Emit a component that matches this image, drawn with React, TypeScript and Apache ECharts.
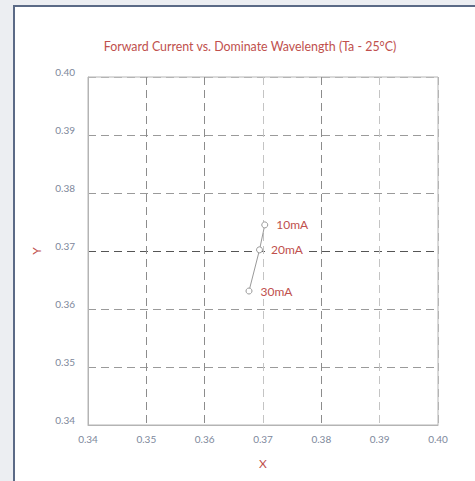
import React, { useEffect, useRef } from "react";
import * as echarts from "echarts";

const titleText = "Forward Current vs. Dominate Wavelength (Ta - 25°C)";
const currents = ["10mA", "20mA", "30mA"];
const xValues = [0.3703, 0.3694, 0.3676];
const yValues = [0.3745, 0.3702, 0.3631];
const axisMin = 0.34;
const axisMax = 0.4;
const axisStep = 0.01;

export default function App() {
  const ref = useRef<HTMLDivElement>(null);
  useEffect(() => {
    if (!ref.current) return;
    const chart = echarts.init(ref.current, undefined, { renderer: "svg" });
    const font = "Lato, 'Noto Sans', sans-serif";
    const labelColor = "#c0504d";
    const tickColor = "#7d879b";
    chart.setOption({
      animation: false,
      title: {
        text: titleText,
        left: 245,
        textAlign: "center",
        top: 35,
        textStyle: { color: labelColor, fontSize: 12.4, fontWeight: "normal", fontFamily: font },
      },
      grid: { left: 88, right: 37, top: 77, bottom: 56, show: true, borderColor: "#b4b4b4", borderWidth: 1 },
      xAxis: {
        type: "value",
        min: axisMin,
        max: axisMax,
        interval: axisStep,
        name: "X",
        nameLocation: "middle",
        nameGap: 32,
        nameTextStyle: { color: labelColor, fontSize: 12, fontFamily: font },
        axisLine: { show: true, lineStyle: { color: "#b4b4b4" } },
        axisTick: { show: false },
        axisLabel: { color: tickColor, fontSize: 10, fontFamily: font, margin: 9, formatter: (v: number) => v.toFixed(2) },
        splitLine: {
          show: true,
          lineStyle: { type: [8, 5], color: ["#b4b4b4", "#8c8c8c", "#8c8c8c", "#c4c4c4", "#8c8c8c", "#c4c4c4", "#b4b4b4"], width: 1 },
        },
      },
      yAxis: {
        type: "value",
        min: axisMin,
        max: axisMax,
        interval: axisStep,
        name: "Y",
        nameLocation: "middle",
        nameGap: 46,
        nameTextStyle: { color: labelColor, fontSize: 12, fontFamily: font },
        axisLine: { show: true, lineStyle: { color: "#b4b4b4" } },
        axisTick: { show: false },
        axisLabel: { color: tickColor, fontSize: 10, fontFamily: font, margin: 13, verticalAlign: "bottom", formatter: (v: number) => v.toFixed(2) },
        splitLine: {
          show: true,
          lineStyle: { type: [8, 5], color: ["#b4b4b4", "#9a9a9a", "#9a9a9a", "#555555", "#9a9a9a", "#9a9a9a", "#b4b4b4"], width: 1 },
        },
      },
      series: [
        {
          type: "line",
          data: xValues.map((x, i) => [x, yValues[i], currents[i]]),
          symbol: "circle",
          symbolSize: 6,
          itemStyle: { color: "#ffffff", borderColor: "#999999", borderWidth: 1 },
          lineStyle: { color: "#999999", width: 1 },
          label: {
            show: true,
            position: "right",
            distance: 4,
            color: labelColor,
            fontSize: 12,
            fontFamily: font,
            backgroundColor: "#ffffff",
            padding: [2, 4],
            formatter: (p: any) => p.data[2],
          },
        },
      ],
    });
    return () => chart.dispose();
  }, []);
  return (
    <div style={{ position: "fixed", left: 0, top: 0, width: 475, height: 481, overflow: "hidden", background: "#eceef2" }}>
      <div
        style={{
          position: "absolute",
          left: 13,
          top: 5,
          width: 480,
          height: 490,
          background: "#ffffff",
          border: "2px solid #5b6a86",
        }}
      />
      <div ref={ref} style={{ position: "absolute", left: 0, top: 0, width: 475, height: 481 }} />
    </div>
  );
}
